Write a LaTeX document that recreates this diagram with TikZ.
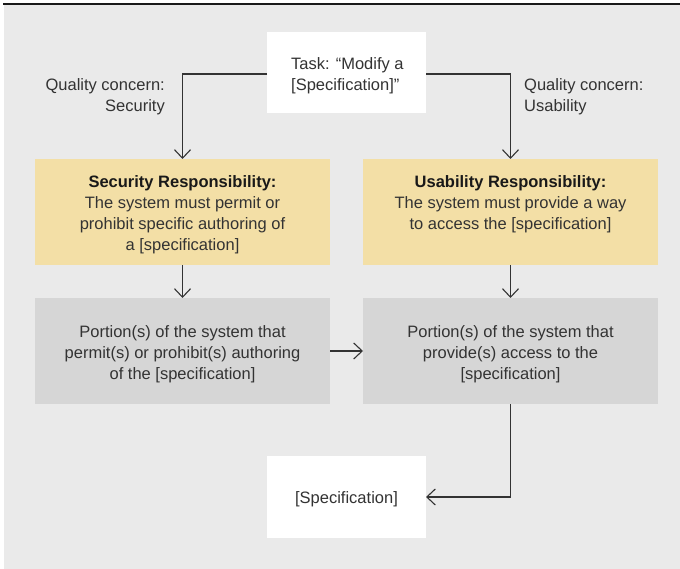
\documentclass[tikz,border=0pt]{standalone}
\usepackage{fontspec}
\setmainfont{Liberation Sans}
\usetikzlibrary{arrows.meta}
\definecolor{bg}{HTML}{EAEAEA}
\definecolor{ylw}{HTML}{F3DFA6}
\definecolor{gbox}{HTML}{D6D6D6}
\definecolor{ink}{HTML}{333333}
\begin{document}
\begin{tikzpicture}[x=1pt,y=-1pt,
  box/.style={inner sep=0pt, outer sep=0pt, anchor=north west},
  ybox/.style={box, fill=ylw, minimum width=295pt, minimum height=106pt},
  gboxs/.style={box, fill=gbox, minimum width=295pt, minimum height=106pt},
  wbox/.style={box, fill=white, minimum width=159pt},
  txt/.style={inner sep=0pt, text=ink, font=\fontsize{16.5}{21}\selectfont, anchor=base},
  arr/.style={draw=ink, line width=1.1pt, -{Straight Barb[length=8.5pt,width=16pt,line width=1.1pt]}},
]
\useasboundingbox (0,0) rectangle (680,569);
\fill[bg] (4,5) rectangle (680,569);
\draw[line width=1.8pt, black!90] (3,4) -- (680,4);

% boxes
\node[wbox, minimum height=81pt] (task) at (267,32) {};
\node[ybox] (sec) at (35,159) {};
\node[ybox] (use) at (363,159) {};
\node[gboxs] (secp) at (35,298) {};
\node[gboxs] (usep) at (363,298) {};
\node[wbox, minimum height=82pt] (spec) at (267,456) {};

% texts (anchor base = baseline of the last line)
\node[txt, anchor=base west, align=left] (tasktext) at (291,91) {Task: “Modify a\\{}[Specification]”};
\node[txt, anchor=base east, align=right] (qsec) at (165,112) {Quality concern:\\Security};
\node[txt, anchor=base west, align=left] (quse) at (524,112) {Quality concern:\\Usability};
\node[txt, align=center] (sectext) at (182.5,251) {{\color{black!90}\textbf{Security Responsibility:}}\\The system must permit or\\prohibit specific authoring of\\a [specification]};
\node[txt, align=center] (usetext) at (510.5,230) {{\color{black!90}\textbf{Usability Responsibility:}}\\The system must provide a way\\to access the [specification]};
\node[txt, align=center] (secptext) at (182.5,379) {Portion(s) of the system that\\permit(s) or prohibit(s) authoring\\of the [specification]};
\node[txt, align=center] (useptext) at (510.5,379) {Portion(s) of the system that\\provide(s) access to the\\{}[specification]};
\node[txt] (spectext) at (346.5,503) {[Specification]};

% connectors
\draw[arr] ([yshift=-1.5pt]task.west) -| (sec.north);
\draw[arr] ([yshift=-1.5pt]task.east) -| (use.north);
\draw[arr] (sec.south) -- (secp.north);
\draw[arr] (use.south) -- (usep.north);
\draw[arr] (secp.east) -- (usep.west);
\draw[arr] (usep.south) |- (spec.east);
\end{tikzpicture}
\end{document}
